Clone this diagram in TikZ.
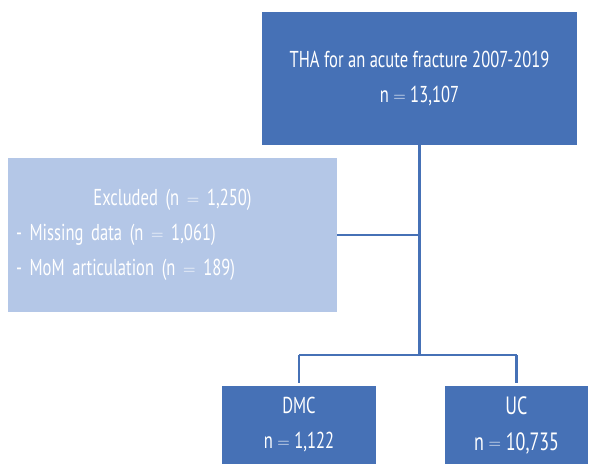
\documentclass[tikz,border=0pt]{standalone}
\usepackage{fontspec}
\setmainfont[FakeStretch=0.72]{PT Sans}
\usetikzlibrary{positioning, calc}
\definecolor{flowblue}{RGB}{70,113,182}
\definecolor{flowlight}{RGB}{180,199,231}
\newcommand{\eqsign}{\raisebox{1.2pt}{\fontsize{18}{18}\selectfont$=$}}

\begin{document}
\begin{tikzpicture}[x=1pt, y=-1pt, font=\fontsize{23}{35}\selectfont,
  every node/.style={align=center, text=white, inner sep=0pt},
  darkbox/.style={fill=flowblue},
  lightbox/.style={fill=flowlight},
  link/.style={draw=flowblue, line width=2.5pt}]
  \useasboundingbox (0,0) rectangle (589,464);
  % cohort
  \node[darkbox, minimum width=315pt, minimum height=133pt] (cohort) at (419.5,78.5) {THA for an acute fracture 2007-2019\\n \eqsign{} 13,107};
  % exclusions
  \node[lightbox, minimum width=329pt, minimum height=154pt, text width=313pt, align=left] (excl) at (172.5,235)
    {\makebox[\linewidth]{Excluded (n \eqsign{} 1,250)}\\- Missing data (n \eqsign{} 1,061)\\- MoM articulation (n \eqsign{} 189)};
  % groups
  \node[darkbox, minimum width=154pt, minimum height=78pt] (dmc) at (299,425) {DMC\\n \eqsign{} 1,122};
  \node[darkbox, minimum width=143pt, minimum height=78pt, font=\fontsize{25}{36}\selectfont] (uc) at (516.5,425) {UC\\n \eqsign{} 10,735};
  % connectors
  \coordinate (split) at (cohort.south |- 0,355);
  \draw[link] (cohort.south) -- (split);
  \draw[link] (cohort.south |- excl.east) -- (excl.east);
  \draw[link] (split -| dmc.north) -- (split -| uc.north);
  \draw[link] (split -| dmc.north) -- ([yshift=3pt]dmc.north);
  \draw[link] (split -| uc.north) -- ([yshift=3pt]uc.north);
\end{tikzpicture}
\end{document}
